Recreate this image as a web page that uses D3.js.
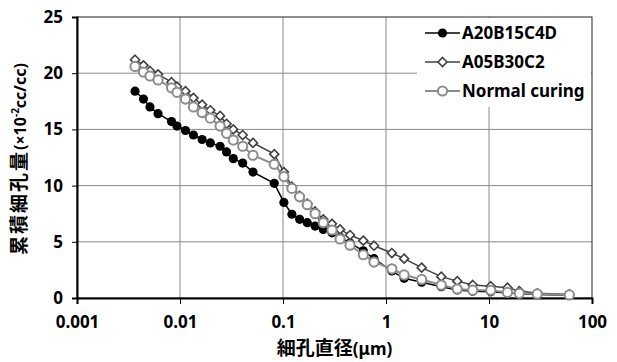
<!DOCTYPE html>
<html>
<head>
<meta charset="utf-8">
<script src="https://cdn.jsdelivr.net/npm/d3@7"></script>
<style>
  html, body { margin:0; padding:0; background:#fff; overflow:hidden; }
  svg { display:block; }
</style>
</head>
<body>
<div id="chart"></div>
<script>
// pore diameter (µm), shared by all three series
let diameters = [0.00366, 0.00442, 0.00511, 0.00612, 0.00827, 0.00935, 0.0113, 0.0135, 0.0164, 0.0197,
                 0.0245, 0.0283, 0.0329, 0.0406, 0.0511, 0.0822, 0.102, 0.122, 0.145, 0.172,
                 0.205, 0.246, 0.299, 0.358, 0.447, 0.602, 0.765, 1.14, 1.50, 2.22,
                 3.44, 4.92, 6.95, 10.4, 15.1, 19.7, 29.4, 60.2]
let a20b15c4d = [18.4, 17.7, 17.0, 16.4, 15.7, 15.3, 14.9, 14.5, 14.1, 13.8,
                 13.5, 13.0, 12.4, 12.0, 11.2, 10.2, 8.5, 7.45, 7.0, 6.7,
                 6.4, 6.1, 5.8, 5.4, 4.9, 4.2, 3.5, 2.4, 1.75, 1.4,
                 1.0, 0.72, 0.6, 0.55, 0.45, 0.38, 0.32, 0.25]
let a05b30c2 = [21.2, 20.7, 20.2, 19.9, 19.2, 18.8, 18.4, 17.8, 17.2, 16.7,
                16.2, 15.5, 15.0, 14.5, 13.8, 12.8, 11.2, 9.9, 9.1, 8.4,
                7.7, 7.0, 6.6, 6.1, 5.6, 5.1, 4.65, 4.0, 3.5, 2.7,
                1.9, 1.5, 1.16, 1.05, 0.92, 0.62, 0.42, 0.32]
let normalCuring = [20.6, 20.1, 19.75, 19.4, 18.7, 18.3, 17.7, 17.0, 16.5, 16.0,
                    15.3, 14.65, 14.05, 13.5, 12.7, 11.9, 10.8, 9.75, 9.0, 8.3,
                    7.5, 6.7, 6.05, 5.25, 4.7, 3.85, 3.2, 2.6, 2.05, 1.65,
                    1.15, 0.8, 0.7, 0.68, 0.5, 0.42, 0.36, 0.27]
let seriesNames = ['A20B15C4D', 'A05B30C2', 'Normal curing']
let xTicks = [0.001, 0.01, 0.1, 1, 10, 100]
let xTickLabels = ['0.001', '0.01', '0.1', '1', '10', '100']
let yTicks = [0, 5, 10, 15, 20, 25]

let width = 617, height = 362,
    margin = { top:17, left:77, right:25, bottom:64 },
    innerWidth = width - margin.left - margin.right,
    innerHeight = height - margin.top - margin.bottom
let font = "'Noto Sans', 'Noto Sans CJK JP', sans-serif",
    cjk = "'Noto Sans CJK JP', sans-serif"

let xScale = d3.scaleLog().domain([0.001, 100]).range([0, innerWidth])
let yScale = d3.scaleLinear().domain([0, 25]).range([innerHeight, 0])

let svg = d3.select("#chart").append("svg").attr("width", width).attr("height", height)
  .attr("font-family", font).attr("font-weight", "bold")
let g = svg.append("g").attr("transform", `translate(${margin.left},${margin.top})`)

// grid
g.selectAll(".hgrid").data(yTicks.slice(1, -1)).enter().append("line")
  .attr("x1", 0).attr("x2", innerWidth)
  .attr("y1", d => yScale(d)).attr("y2", d => yScale(d))
  .attr("stroke", "#8a8a8a").attr("stroke-width", 1)
g.selectAll(".vgrid").data(xTicks.slice(1, -1)).enter().append("line")
  .attr("x1", d => xScale(d)).attr("x2", d => xScale(d))
  .attr("y1", 0).attr("y2", innerHeight)
  .attr("stroke", "#8a8a8a").attr("stroke-width", 1)
g.append("rect").attr("width", innerWidth).attr("height", innerHeight)
  .attr("fill", "none").attr("stroke", "#222").attr("stroke-width", 1)

// axes
let xAxis = d3.axisBottom(xScale).tickValues(xTicks).tickSize(6).tickPadding(12)
  .tickFormat((d, i) => xTickLabels[i])
let yAxis = d3.axisLeft(yScale).tickValues(yTicks).tickSize(5).tickPadding(9)
let xGroup = g.append("g").attr("transform", `translate(0,${innerHeight})`).call(xAxis)
let yGroup = g.append("g").call(yAxis)
;[xGroup, yGroup].forEach(ax => {
  ax.attr("font-family", font).attr("font-size", 17)
  ax.select(".domain").attr("stroke", "#000").attr("stroke-width", 2)
  ax.selectAll(".tick line").attr("stroke", "#000").attr("stroke-width", 1)
  ax.selectAll(".tick text").attr("fill", "#000")
})

// series
let styles = [
  { values: a20b15c4d,    line: "#000",    width: 1.5, marker: "dot" },
  { values: a05b30c2,     line: "#404040", width: 1.5, marker: "diamond" },
  { values: normalCuring, line: "#8c8c8c", width: 2,   marker: "ring" }
]
let line = d3.line().x(d => xScale(d[0])).y(d => yScale(d[1]))

function drawMarker(sel, s) {
  if (s.marker === "dot") {
    sel.append("circle").attr("r", 4.6).attr("fill", "#000")
  } else if (s.marker === "diamond") {
    sel.append("path").attr("d", "M0,-4.5L4.5,0L0,4.5L-4.5,0Z")
      .attr("fill", "#fff").attr("stroke", "#404040").attr("stroke-width", 1.6)
  } else {
    sel.append("circle").attr("r", 4.6).attr("fill", "#fff")
      .attr("stroke", "#8c8c8c").attr("stroke-width", 2)
  }
}

styles.forEach(s => {
  let pts = diameters.map((d, i) => [d, s.values[i]])
  g.append("path").attr("d", line(pts)).attr("fill", "none")
    .attr("stroke", s.line).attr("stroke-width", s.width)
  let m = g.selectAll(null).data(pts).enter().append("g")
    .attr("transform", d => `translate(${xScale(d[0])},${yScale(d[1])})`)
  drawMarker(m, s)
})

// legend
let legend = svg.append("g").attr("transform", "translate(417,18)")
legend.append("rect").attr("width", 174).attr("height", 89).attr("fill", "#fff")
styles.forEach((s, i) => {
  let row = legend.append("g").attr("transform", `translate(8,${15 + i * 29})`)
  row.append("line").attr("x1", 0).attr("x2", 35).attr("stroke", s.line).attr("stroke-width", s.width)
  drawMarker(row.append("g").attr("transform", "translate(17.5,0)"), s)
  row.append("text").attr("x", 37).attr("y", 6).attr("font-size", 17).attr("fill", "#000").text(seriesNames[i])
})

// axis titles
let xt = svg.append("text").attr("x", margin.left + innerWidth / 2).attr("y", 355)
  .attr("text-anchor", "middle").attr("font-size", 17).attr("fill", "#000")
xt.append("tspan").attr("font-family", cjk).attr("font-size", 19).text("細孔直径")
xt.append("tspan").text("(μm)")

let yt = svg.append("text").attr("transform", "translate(26,159) rotate(-90)")
  .attr("text-anchor", "middle").attr("font-size", 16).attr("fill", "#000")
yt.append("tspan").attr("font-family", cjk).attr("font-size", 19).attr("letter-spacing", 2).text("累積細孔量")
yt.append("tspan").text("(×10")
yt.append("tspan").attr("font-size", 10).attr("dy", -7).text("-2")
yt.append("tspan").attr("dy", 7).text("cc/cc)")
</script>
</body>
</html>
